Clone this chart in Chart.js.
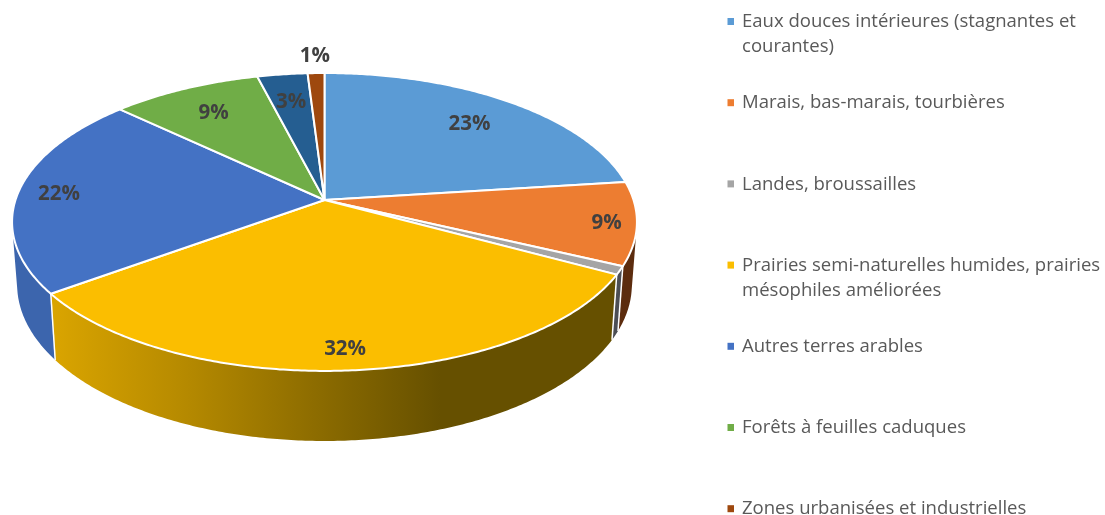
<!DOCTYPE html>
<html>
<head>
<meta charset="utf-8">
<title>Pie</title>
<script src="https://cdn.jsdelivr.net/npm/chart.js@4/dist/chart.umd.min.js"></script>
<style>
  html, body { margin: 0; padding: 0; background: #fff; overflow: hidden; }
  canvas { display: block; }
</style>
</head>
<body>
<canvas id="pie" width="1105" height="515"></canvas>
<script>
// the slice with no legend entry in the picture keeps an empty label
var categories = [
  "Eaux douces intérieures (stagnantes et\ncourantes)",
  "Marais, bas-marais, tourbières",
  "Landes, broussailles",
  "Prairies semi-naturelles humides, prairies\nmésophiles améliorées",
  "Autres terres arables",
  "Forêts à feuilles caduques",
  "",
  "Zones urbanisées et industrielles"
];
var shares = [23, 9, 0.9, 32.1, 22, 9, 3, 1];
var sliceLabels = ["23%", "9%", "", "32%", "22%", "9%", "3%", "1%"];
var labelRadius = [0.77, 0.905, 0, 0.88, 0.868, 0.775, 0.77, 1.176];
var sliceColors = ["#5B9BD5", "#ED7D31", "#A5A5A5", "#FBBE00", "#4472C4", "#70AD47", "#255E91", "#9E480E"];
var wallColors = [
  ["#38618a", "#38618a"],
  ["#5c2c0e", "#5c2c0e"],
  ["#4c4e54", "#4c4e54"],
  ["#d9a400", "#b68a00", "#665000", "#665000"],
  ["#3c65ad", "#3c65ad"],
  ["#436a2b", "#436a2b"],
  ["#173a5a", "#173a5a"],
  ["#5f2b08", "#5f2b08"]
];

// top and bottom of the disc, fitted on the perspective of the picture
var topFace = { x: 324.5, y: 200, rx: 309, ry: 145.7 };
var bottomFace = { x: 324.5, y: 261.5, rx: 304, ry: 153 };
var tilt = 0.1475;

function project(face, a, f) {
  var u = Math.cos(a) * f, v = -Math.sin(a) * f;
  var w = 1 + tilt * v;
  return { x: face.x + face.rx * u / w, y: face.y - face.ry * v / w };
}

function traceArc(ctx, face, a0, a1) {
  var n = Math.max(2, Math.ceil(Math.abs(a1 - a0) / 0.01));
  for (var i = 0; i <= n; i++) {
    var p = project(face, a0 + (a1 - a0) * i / n, 1);
    ctx.lineTo(p.x, p.y);
  }
}

function signedArea(q) {
  var s = 0;
  for (var i = 0; i < q.length; i++) {
    var p = q[i], r = q[(i + 1) % q.length];
    s += p.x * r.y - r.x * p.y;
  }
  return s;
}

// a wall is one path of small quads so the side tangents between both rims get filled too.
// all quads wind the same way, otherwise overlaps at the tangents cancel out
function fillWall(ctx, arc, style) {
  var n = Math.max(2, Math.ceil((arc.endAngle - arc.startAngle) / 0.01));
  ctx.beginPath();
  for (var i = 0; i < n; i++) {
    var a0 = arc.startAngle + (arc.endAngle - arc.startAngle) * i / n;
    var a1 = arc.startAngle + (arc.endAngle - arc.startAngle) * (i + 1) / n;
    var q = [project(topFace, a0, 1), project(topFace, a1, 1), project(bottomFace, a1, 1), project(bottomFace, a0, 1)];
    if (signedArea(q) < 0) q.reverse();
    ctx.moveTo(q[0].x, q[0].y);
    ctx.lineTo(q[1].x, q[1].y);
    ctx.lineTo(q[2].x, q[2].y);
    ctx.lineTo(q[3].x, q[3].y);
    ctx.closePath();
  }
  ctx.fillStyle = style;
  ctx.fill();
}

var disc3d = {
  id: "disc3d",
  beforeDatasetDraw: function(chart, args) {
    var ctx = chart.ctx;
    var arcs = args.meta.data;

    // walls first, the ones at the back before the ones in front
    var order = arcs.map(function(a, i) { return i; }).sort(function(i, j) {
      var a = arcs[i], b = arcs[j];
      return Math.sin((a.startAngle + a.endAngle) / 2) - Math.sin((b.startAngle + b.endAngle) / 2);
    });
    order.forEach(function(i) {
      var g = ctx.createLinearGradient(55, 0, 440, 0);
      wallColors[i].forEach(function(c, k, list) {
        g.addColorStop(k === 2 && list.length === 4 ? 1 : k / (list.length - 1), c);
      });
      fillWall(ctx, arcs[i], g);
    });

    // white seams on the visible wall corners
    ctx.strokeStyle = "#fff";
    ctx.lineWidth = 1.5;
    arcs.forEach(function(arc) {
      if (Math.sin(arc.startAngle) > 0.2) {
        var t = project(topFace, arc.startAngle, 1), b = project(bottomFace, arc.startAngle, 1);
        ctx.beginPath();
        ctx.moveTo(t.x, t.y);
        ctx.lineTo(b.x, b.y);
        ctx.stroke();
      }
    });

    arcs.forEach(function(arc, i) {
      ctx.beginPath();
      ctx.moveTo(topFace.x, topFace.y);
      traceArc(ctx, topFace, arc.startAngle, arc.endAngle);
      ctx.closePath();
      ctx.fillStyle = sliceColors[i];
      ctx.fill();
      ctx.strokeStyle = "#fff";
      ctx.lineWidth = 2;
      ctx.lineJoin = "round";
      ctx.stroke();
    });
    return false;
  },
  afterDraw: function(chart) {
    var ctx = chart.ctx;
    var arcs = chart.getDatasetMeta(0).data;

    ctx.textAlign = "center";
    ctx.textBaseline = "middle";
    ctx.fillStyle = "#404040";
    ctx.font = "bold 20.5px 'Open Sans'";
    arcs.forEach(function(arc, i) {
      if (!sliceLabels[i]) return;
      var p = project(topFace, (arc.startAngle + arc.endAngle) / 2, labelRadius[i]);
      ctx.fillText(sliceLabels[i], p.x, p.y + 2);
    });

    ctx.textAlign = "left";
    ctx.font = "18.55px 'Open Sans'";
    var row = 0;
    categories.forEach(function(name, i) {
      if (!name) return;
      var y = 22 + row * 81.2;
      ctx.fillStyle = sliceColors[i];
      ctx.fillRect(727.5, y - 4, 6.5, 7);
      ctx.fillStyle = "#595959";
      name.split("\n").forEach(function(line, k) {
        ctx.fillText(line, 742, y + k * 25);
      });
      row++;
    });
  }
};

new Chart(document.getElementById("pie").getContext("2d"), {
  type: "pie",
  data: {
    labels: categories,
    datasets: [{ data: shares, backgroundColor: sliceColors, borderColor: "#fff" }]
  },
  options: {
    responsive: false,
    animation: false,
    plugins: { legend: { display: false }, tooltip: { enabled: false } }
  },
  plugins: [disc3d]
});
</script>
</body>
</html>
